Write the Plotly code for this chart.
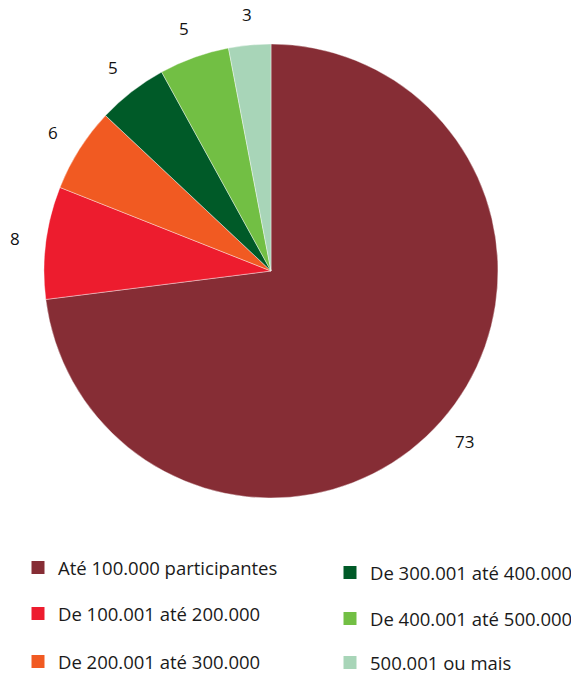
import math
import plotly.graph_objects as go

# Distribution of plans by number of participants (share, %)
categories = [
    "Até 100.000 participantes",
    "De 100.001 até 200.000",
    "De 200.001 até 300.000",
    "De 300.001 até 400.000",
    "De 400.001 até 500.000",
    "500.001 ou mais",
]
shares = [73, 8, 6, 5, 5, 3]
colors = ["#862D35", "#ED1C2E", "#F15A22", "#005A28", "#72BF44", "#A8D5B8"]

W, H = 571, 675
font_family = "Open Sans, Noto Sans, sans-serif"

# Pie geometry in pixels (centre and radius), converted to the paper domain
cx, cy, radius = 271, 271, 227
label_radius = radius + 31

fig = go.Figure()

fig.add_trace(go.Pie(
    labels=categories,
    values=shares,
    textinfo="none",
    marker=dict(colors=colors, line=dict(color="white", width=0.4)),
    sort=False,
    direction="clockwise",
    rotation=0,
    showlegend=False,
    hoverinfo="label+value",
    domain=dict(x=[(cx - radius) / W, (cx + radius) / W],
                y=[1 - (cy + radius) / H, 1 - (cy - radius) / H]),
))

# Value labels placed outside each slice, at the slice's mid-angle
total = sum(shares)
cum = 0
for v in shares:
    mid = (cum + v / 2) / total * 2 * math.pi  # clockwise from 12 o'clock
    cum += v
    px = cx + label_radius * math.sin(mid)
    py = cy - label_radius * math.cos(mid)
    fig.add_annotation(
        x=px / W, y=1 - py / H, xref="paper", yref="paper",
        text=str(v), showarrow=False,
        xanchor="center", yanchor="middle",
        font=dict(size=17, color="#111111", family=font_family),
    )

# Legend: one small legend box per entry, laid out as two columns of three
legend_cols_px = [18, 18, 18, 330, 330, 330]
legend_rows_px = [568, 614, 662, 573, 619, 663]

legend_style = dict(
    font=dict(size=18.5, color="#1a1a1a", family=font_family),
    bgcolor="rgba(0,0,0,0)",
    borderwidth=0,
    itemsizing="trace",
    xanchor="left",
    yanchor="middle",
)

layout_legends = {}
for i, (name, col) in enumerate(zip(categories, colors)):
    key = "legend" if i == 0 else f"legend{i + 1}"
    fig.add_trace(go.Scatter(
        x=[None], y=[None], mode="markers", name=name,
        marker=dict(symbol="square", size=13, color=col),
        legend=key,
        hoverinfo="skip",
    ))
    layout_legends[key] = dict(
        x=legend_cols_px[i] / W,
        y=1 - legend_rows_px[i] / H,
        **legend_style,
    )

fig.update_layout(
    width=W, height=H,
    margin=dict(l=0, r=0, t=0, b=0, autoexpand=False),
    paper_bgcolor="white",
    plot_bgcolor="white",
    xaxis=dict(visible=False),
    yaxis=dict(visible=False),
    **layout_legends,
)

fig.write_html("out.html")
